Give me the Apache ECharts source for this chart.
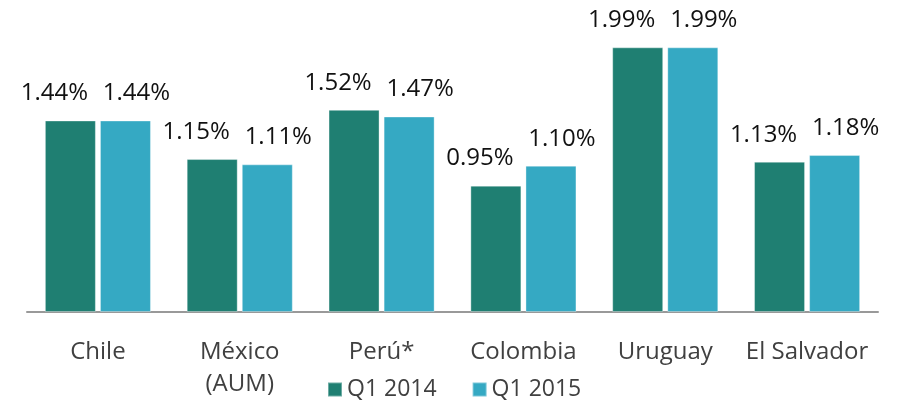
<!DOCTYPE html>
<html>
<head>
<meta charset="utf-8">
<script src="https://cdn.jsdelivr.net/npm/echarts@6/dist/echarts.min.js"></script>
<style>
  html, body { margin: 0; padding: 0; background: #fff; }
  #chart { width: 900px; height: 400px; }
</style>
</head>
<body>
<div id="chart"></div>
<script>
// Fee levels by country, first quarter of each year (percent)
const categories = ['Chile', 'México\n(AUM)', 'Perú*', 'Colombia', 'Uruguay', 'El Salvador'];
const seriesNames = ['Q1 2014', 'Q1 2015'];
const q1_2014 = [1.44, 1.15, 1.52, 0.95, 1.99, 1.13];
const q1_2015 = [1.44, 1.11, 1.47, 1.10, 1.99, 1.18];

const FONT = '"Open Sans", sans-serif';
const colors = ['#1f7f72', '#35a9c3'];

function barSeries(name, values, color, dx) {
  return {
    name: name,
    type: 'bar',
    data: values,
    barWidth: 51,
    barGap: '8%',
    itemStyle: { color: color, borderColor: 'rgba(255,255,255,0.35)', borderWidth: 1 },
    label: {
      show: true,
      position: 'top',
      distance: 15,
      offset: [dx, 0],
      color: '#111',
      fontFamily: FONT,
      fontSize: 24,
      formatter: p => p.value.toFixed(2) + '%'
    }
  };
}

const chart = echarts.init(document.getElementById('chart'));
chart.setOption({
  animation: false,
  grid: { left: 27, right: 22, top: 46, bottom: 87, containLabel: false },
  legend: {
    data: seriesNames,
    left: 322,
    top: 373,
    icon: 'rect',
    itemWidth: 14,
    itemHeight: 14,
    itemGap: 35,
    textStyle: { color: '#404040', fontFamily: FONT, fontSize: 23 }
  },
  xAxis: {
    type: 'category',
    data: categories,
    axisLine: { lineStyle: { color: '#999', width: 2 } },
    axisTick: { show: false },
    axisLabel: {
      interval: 0,
      color: '#404040',
      fontFamily: FONT,
      fontSize: 24,
      lineHeight: 32,
      margin: 24
    }
  },
  yAxis: {
    type: 'value',
    min: 0,
    max: 2,
    show: false,
    splitLine: { show: false }
  },
  series: [
    barSeries(seriesNames[0], q1_2014, colors[0], -16),
    barSeries(seriesNames[1], q1_2015, colors[1], 11)
  ]
});
</script>
</body>
</html>
